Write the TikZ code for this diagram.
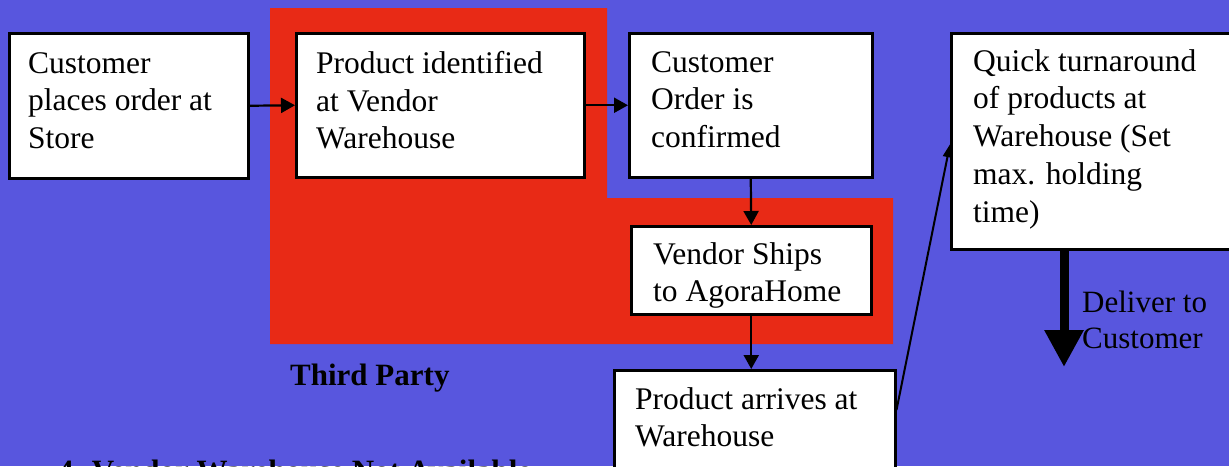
\documentclass[tikz,border=0pt]{standalone}
\usepackage{fontspec}
\setmainfont{Liberation Serif}
\usetikzlibrary{arrows.meta}
\definecolor{bgblue}{RGB}{88,86,222}
\definecolor{partyred}{RGB}{232,42,22}
\tikzset{
  box/.style={draw=black, fill=white, line width=2.5pt, anchor=north west, inner sep=0pt},
  txt/.style={font=\fontsize{31.5}{37.8}\selectfont, align=left, inner sep=0pt, anchor=north west, text=black},
  lbl/.style={font=\fontsize{31}{36}\selectfont, align=left, inner sep=0pt, anchor=north west, text=black},
  bold/.style={font=\fontsize{31}{36}\selectfont\bfseries, inner sep=0pt, anchor=base west, text=black},
  arr/.style={line width=2.2pt, -{Triangle[length=14pt,width=15pt]}},
  thinarr/.style={line width=2pt, -{Triangle[length=13pt,width=9pt]}},
  bigarr/.style={line width=9pt, -{Triangle[length=37pt,width=37pt]}}
}
\begin{document}
\begin{tikzpicture}[x=1pt,y=-1pt]
\useasboundingbox (0,0) rectangle (1229,466);
\clip (0,0) rectangle (1229,466);
\fill[bgblue] (0,0) rectangle (1229,466);
% third party region
\fill[partyred] (270,8) -- (607,8) -- (607,198) -- (893,198) -- (893,344) -- (270,344) -- cycle;
% boxes
\node[box, minimum width=239pt, minimum height=145pt] (b1) at (8,32) {};
\node[box, minimum width=288pt, minimum height=144pt] (b2) at (295,32) {};
\node[box, minimum width=243pt, minimum height=144pt] (b3) at (628,32) {};
\node[box, minimum width=240pt, minimum height=88pt] (b4) at (630,225) {};
\node[box, minimum width=281pt, minimum height=130pt] (b5) at (613,369) {};
\node[box, minimum width=290pt, minimum height=216pt] (b6) at (950,32) {};
% texts
\node[txt] (t1) at ([shift={(20,20)}]b1.north west) {Customer\\places order at\\Store};
\node[txt] (t2) at ([shift={(21,19)}]b2.north west) {Product identified\\at Vendor\\Warehouse};
\node[txt] (t3) at ([shift={(23,19)}]b3.north west) {Customer\\Order is\\confirmed};
\node[txt] (t4) at ([shift={(23,17)}]b4.north west) {Vendor Ships\\to AgoraHome};
\node[txt] (t5) at ([shift={(22,18)}]b5.north west) {Product arrives at\\Warehouse};
\node[txt] (t6) at ([shift={(23,17)}]b6.north west) {Quick turnaround\\of products at\\Warehouse (Set\\max. holding\\time)};
% connectors
\draw[arr] (b1.east) -- (b2.west);
\draw[arr] (b2.east) -- (b3.west);
\draw[arr] (b3.south) -- (b4.north);
\draw[arr] (b4.south) -- (b4.south |- b5.north);
\draw[thinarr] ([yshift=-41pt]b5.north east) -- ([yshift=-3pt]b6.west);
\coordinate (dtip) at (1064,367);
\draw[bigarr] (b6.south -| dtip) -- (dtip);
\node[lbl] (dl) at (1082,291) {Deliver to\\Customer};
\node[bold] (tp) at (290,385) {Third Party};
\node[bold] (v4) at (58,481) {4. Vendor Warehouse Not Available};
\end{tikzpicture}
\end{document}
